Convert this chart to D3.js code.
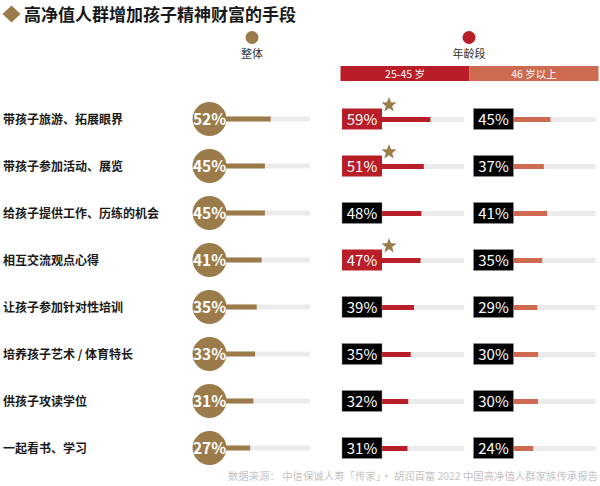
<!DOCTYPE html>
<html><head><meta charset="utf-8">
<script src="https://cdn.jsdelivr.net/npm/d3@7"></script>
<style>body{margin:0;background:#fff}svg{display:block;font-family:"Noto Sans CJK SC","Noto Sans",sans-serif}</style>
</head><body><svg id="c" width="600" height="486"></svg>
<script>
const categories = ["带孩子旅游、拓展眼界","带孩子参加活动、展览","给孩子提供工作、历练的机会","相互交流观点心得","让孩子参加针对性培训","培养孩子艺术 / 体育特长","供孩子攻读学位","一起看书、学习"];
const overall = [52,45,45,41,35,33,31,27];
const age25to45 = [59,51,48,47,39,35,32,31];
const age46plus = [45,37,41,35,29,30,30,24];
const highlighted = [true,true,false,true,false,false,false,false];
const groupLabels = ["25-45 岁","46 岁以上"];
const title = "高净值人群增加孩子精神财富的手段";
const source = "数据来源： 中信保诚人寿「传家」· 胡润百富 2022 中国高净值人群家族传承报告";

const C = {gold:"#9c7b4b", red:"#b91d27", orange:"#cd6a50", track:"#ebebeb", text:"#1a1a1a"};
const svg = d3.select("#c");

// title
svg.append("path").attr("d","M11.5,5.5 L20.5,14 L11.5,22.5 L2.5,14 Z").attr("fill",C.gold);
svg.append("text").attr("x",24).attr("y",20.5).attr("font-size",17).attr("font-weight","bold").attr("fill",C.text).text(title);

// legend
svg.append("circle").attr("cx",252).attr("cy",37.5).attr("r",6.5).attr("fill",C.gold);
svg.append("text").attr("x",252).attr("y",58).attr("text-anchor","middle").attr("font-size",11).attr("fill","#333").text("整体");
svg.append("circle").attr("cx",469).attr("cy",37.5).attr("r",6.5).attr("fill",C.red);
svg.append("text").attr("x",469).attr("y",58).attr("text-anchor","middle").attr("font-size",11).attr("fill","#333").text("年龄段");
const hdr = d3.scaleBand().domain(groupLabels).range([340.5,598.5]).padding(0);
svg.selectAll("rect.hdr").data(groupLabels).join("rect").attr("class","hdr")
  .attr("x",d=>hdr(d)).attr("y",66).attr("width",hdr.bandwidth()).attr("height",15)
  .attr("fill",(d,i)=>i===0?C.red:C.orange);
svg.selectAll("text.hdr").data(groupLabels).join("text").attr("class","hdr")
  .attr("x",d=>hdr(d)+hdr.bandwidth()/2).attr("y",77.5).attr("text-anchor","middle")
  .attr("font-size",10.5).attr("fill","#fff").text(d=>d);

const y = d3.scalePoint().domain(categories).range([119,448]);
const xOverall = d3.scaleLinear().domain([0,100]).range([228,310]);
const xA = d3.scaleLinear().domain([0,100]).range([382,464]);
const xB = d3.scaleLinear().domain([0,100]).range([513.5,595.5]);
const bh = 5;

const rows = svg.selectAll("g.row").data(categories).join("g").attr("class","row");
rows.append("text").attr("x",3).attr("y",d=>y(d)+4.5).attr("font-size",12).attr("font-weight","bold").attr("fill",C.text).text(d=>d);

// overall
rows.append("rect").attr("x",xOverall(0)).attr("y",d=>y(d)-bh/2).attr("width",xOverall(100)-xOverall(0)).attr("height",bh).attr("fill",C.track);
rows.append("rect").attr("x",xOverall(0)-4).attr("y",d=>y(d)-bh/2).attr("width",(d,i)=>xOverall(overall[i])-xOverall(0)+4).attr("height",bh).attr("fill",C.gold);
rows.append("circle").attr("cx",209.5).attr("cy",d=>y(d)).attr("r",17).attr("fill",C.gold);
rows.append("text").attr("x",209.5).attr("y",d=>y(d)+5.5).attr("text-anchor","middle").attr("font-size",15.5).attr("font-weight","bold").attr("fill","#fff").text((d,i)=>overall[i]+"%");

// group bars
function group(xs, vals, color, boxColors){
  rows.append("rect").attr("x",xs(0)).attr("y",d=>y(d)-bh/2+0.5).attr("width",xs(100)-xs(0)).attr("height",bh).attr("fill",C.track);
  rows.append("rect").attr("x",xs(0)).attr("y",d=>y(d)-bh/2+0.5).attr("width",(d,i)=>xs(vals[i])-xs(0)).attr("height",bh).attr("fill",color);
  rows.append("rect").attr("x",xs(0)-40).attr("y",d=>y(d)-10.5).attr("width",40).attr("height",21)
    .attr("fill",(d,i)=>boxColors[i]).attr("stroke",(d,i)=>boxColors[i]==="#000"?"#999":"none").attr("stroke-width",0.5);
  rows.append("text").attr("x",xs(0)-20).attr("y",d=>y(d)+5.5).attr("text-anchor","middle").attr("font-size",15).attr("fill","#fff").text((d,i)=>vals[i]+"%");
}
group(xA, age25to45, C.red, highlighted.map(h=>h?C.red:"#000"));
group(xB, age46plus, C.orange, age46plus.map(()=>"#000"));

// stars
function starPath(R, r){
  const pts = [];
  for(let k=0;k<10;k++){
    const a = -Math.PI/2 + k*Math.PI/5;
    const rad = k%2===0?R:r;
    pts.push([rad*Math.cos(a), rad*Math.sin(a)]);
  }
  return d3.line()(pts)+"Z";
}
rows.filter((d,i)=>highlighted[i]).append("path").attr("d",starPath(8,3.3))
  .attr("transform",d=>`translate(389,${y(d)-14})`).attr("fill",C.gold);

svg.append("text").attr("x",598).attr("y",480).attr("text-anchor","end").attr("font-size",10.4).attr("fill","#c4c4c4").text(source);
</script></body></html>
